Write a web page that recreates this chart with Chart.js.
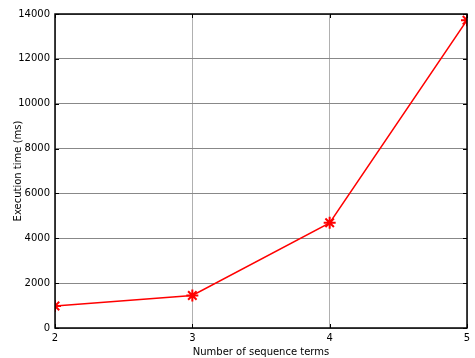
<!DOCTYPE html>
<html>
<head>
<meta charset="utf-8">
<script src="https://cdn.jsdelivr.net/npm/chart.js@4/dist/chart.umd.min.js"></script>
<style>
  html, body { margin: 0; padding: 0; background: #fff; }
  #wrap { width: 475px; height: 358px; }
</style>
</head>
<body>
<div id="wrap"><canvas id="myChart"></canvas></div>
<script>
var terms = [2, 3, 4, 5];
var execTimes = [980, 1450, 4690, 13720];
var yTicks = [0, 2000, 4000, 6000, 8000, 10000, 12000, 14000];

// frame + inward tick marks like the original plot
var framePlugin = {
    id: 'frame',
    afterDraw: function (c) {
        var ctx = c.ctx, a = c.chartArea;
        var xs = c.scales.x, ys = c.scales.y;
        ctx.save();
        ctx.strokeStyle = '#000';
        ctx.lineWidth = 1;
        ctx.beginPath();
        terms.forEach(function (t) {
            var px = Math.round(xs.getPixelForValue(t)) + 0.5;
            ctx.moveTo(px, a.bottom); ctx.lineTo(px, a.bottom - 4);
            ctx.moveTo(px, a.top); ctx.lineTo(px, a.top + 4);
        });
        yTicks.forEach(function (v) {
            var py = Math.round(ys.getPixelForValue(v)) + 0.5;
            ctx.moveTo(a.left, py); ctx.lineTo(a.left + 4, py);
            ctx.moveTo(a.right, py); ctx.lineTo(a.right - 4, py);
        });
        ctx.stroke();
        ctx.lineWidth = 1.5;
        ctx.strokeRect(a.left, a.top, a.right - a.left, a.bottom - a.top);
        ctx.restore();
    }
};

var chart = document.getElementById('myChart').getContext('2d');
var myChart = new Chart(chart, {
    type: 'line',
    data: {
        datasets: [{
            data: terms.map(function (t, i) { return { x: t, y: execTimes[i] }; }),
            borderColor: '#ff0000',
            backgroundColor: '#ff0000',
            borderWidth: 1.5,
            pointStyle: 'star',
            pointRadius: 6,
            pointBorderWidth: 2,
            tension: 0
        }]
    },
    options: {
        responsive: true,
        maintainAspectRatio: false,
        animation: false,
        layout: { padding: { top: 14, right: 3, left: 12, bottom: 0 } },
        plugins: {
            legend: { display: false },
            tooltip: { enabled: false }
        },
        scales: {
            x: {
                type: 'linear',
                min: 2,
                max: 5,
                afterBuildTicks: function (s) { s.ticks = terms.map(function (v) { return { value: v }; }); },
                afterFit: function (s) { s.height = 30; s.paddingRight = 0; s.paddingLeft = 0; },
                grid: { color: '#b0b0b0', drawTicks: false },
                border: { display: false },
                ticks: {
                    color: '#000', padding: 4, font: { family: 'DejaVu Sans', size: 10 },
                    callback: function (v) { return String(v); }
                },
                title: {
                    display: true,
                    text: 'Number of sequence terms',
                    color: '#000',
                    padding: { top: 2, bottom: 0 },
                    font: { family: 'DejaVu Sans', size: 10 }
                }
            },
            y: {
                min: 0,
                max: 14000,
                afterBuildTicks: function (s) { s.ticks = yTicks.map(function (v) { return { value: v }; }); },
                afterFit: function (s) { s.width = 43; s.paddingTop = 0; s.paddingBottom = 0; },
                grid: { color: '#888888', drawTicks: false },
                border: { display: false },
                ticks: {
                    color: '#000', padding: 5, font: { family: 'DejaVu Sans', size: 10 },
                    callback: function (v) { return String(v); }
                },
                title: {
                    display: true,
                    text: 'Execution time (ms)',
                    color: '#000',
                    padding: { top: 0, bottom: 0 },
                    font: { family: 'DejaVu Sans', size: 10 }
                }
            }
        }
    },
    plugins: [framePlugin]
});
</script>
</body>
</html>
